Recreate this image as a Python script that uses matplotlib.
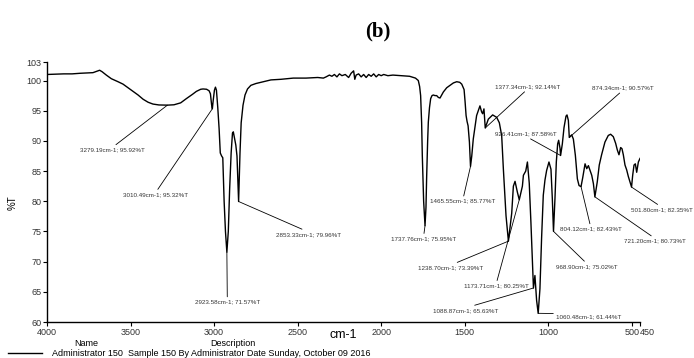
import matplotlib.pyplot as plt
from matplotlib.lines import Line2D

plt.rcParams['font.family'] = ['Liberation Sans', 'DejaVu Sans']

# Spectre IR (nombre d'onde en cm-1, transmittance en %T)
wavenumber = [
    4000, 3950, 3900, 3850, 3800, 3760, 3725, 3700, 3685, 3670, 3645, 3615,
    3575, 3545, 3515, 3485, 3455, 3425, 3395, 3366, 3330, 3279.19, 3240, 3200,
    3166, 3130, 3106, 3080, 3066, 3045, 3030, 3022, 3015, 3010.49, 3005, 2998,
    2992, 2986, 2978, 2970, 2963, 2955, 2948, 2940, 2932, 2923.58, 2915, 2907,
    2898, 2890, 2885, 2878, 2870, 2863, 2853.33, 2845, 2838, 2827, 2815, 2800,
    2780, 2750, 2720, 2690, 2660, 2600, 2526, 2450, 2380, 2346,
    2330, 2310, 2295, 2280, 2265, 2250, 2235, 2215, 2195, 2180, 2165, 2158,
    2150, 2135, 2120, 2105, 2090, 2075, 2060, 2045, 2030, 2015, 2000, 1985,
    1960, 1930, 1880, 1830, 1795,
    1778, 1770, 1764, 1758, 1754, 1746, 1737.76, 1732, 1728, 1722, 1718, 1711,
    1704, 1696, 1688, 1678, 1668, 1658, 1648, 1638, 1628, 1608, 1588, 1568,
    1548, 1530, 1518, 1510, 1504, 1498, 1492, 1486, 1480, 1472, 1465.55, 1458,
    1449, 1429, 1409, 1399, 1393, 1385, 1377.34, 1359, 1333, 1309, 1293, 1279,
    1269, 1253, 1238.70, 1219, 1209, 1199, 1185, 1173.71, 1155, 1149, 1143, 1135,
    1125, 1114, 1104, 1088.87, 1080, 1070, 1060.48, 1050, 1040, 1030, 1020, 1010,
    996, 984, 976, 968.90, 960, 952, 944, 938, 930, 926.41, 916, 906,
    894, 888, 880, 874.34, 860, 850, 838, 826, 816, 804.12, 794, 780,
    770, 760, 750, 740, 730, 721.20, 707, 695, 681, 661, 641, 627,
    611, 597, 587, 577, 567, 559, 551, 541, 531, 521, 501.80, 495,
    487, 479, 471, 461, 451,
]
transmittance = [
    101.0, 101.05, 101.1, 101.1, 101.2, 101.25, 101.3, 101.55, 101.7, 101.45, 100.9, 100.3,
    99.8, 99.4, 98.8, 98.2, 97.6, 96.9, 96.4, 96.1, 95.95, 95.92, 95.98, 96.3,
    97.0, 97.7, 98.2, 98.55, 98.6, 98.55, 98.3, 97.8, 96.0, 95.32, 96.8, 98.4,
    98.9, 98.4, 95.5, 92.0, 88.0, 87.5, 87.2, 80.0, 75.0, 71.57, 75.0, 82.0,
    88.0, 91.3, 91.5, 90.5, 89.3, 87.5, 79.96, 88.0, 93.0, 95.9, 97.6, 98.6,
    99.2, 99.5, 99.7, 99.9, 100.1, 100.2, 100.4, 100.4, 100.5, 100.4,
    100.6, 100.9, 100.7, 101.0, 100.6, 101.1, 100.8, 101.0, 100.5, 101.2, 101.6, 100.2,
    100.9, 101.1, 100.6, 101.0, 100.5, 101.0, 100.7, 101.1, 100.6, 101.0, 100.8, 101.0,
    100.8, 100.9, 100.8, 100.7, 100.4,
    100.0, 99.0, 97.5, 93.0, 87.6, 80.0, 75.95, 79.0, 84.0, 90.0, 93.1, 95.5,
    97.0, 97.5, 97.6, 97.5, 97.5, 97.2, 97.1, 97.6, 98.1, 98.8, 99.2, 99.6,
    99.8, 99.7, 99.4, 98.9, 98.5, 96.5, 94.2, 93.2, 92.5, 89.8, 85.77, 87.5,
    90.3, 94.2, 95.8, 94.8, 94.5, 95.3, 92.14, 93.6, 94.3, 93.9, 93.0, 90.9,
    85.4, 77.6, 73.39, 78.0, 82.5, 83.3, 81.5, 80.25, 82.5, 84.3, 84.6, 85.0,
    86.5, 83.0, 76.5, 65.63, 67.7, 63.6, 61.44, 65.5, 74.0, 81.0, 83.5, 85.1,
    86.5, 85.3, 80.5, 75.02, 80.5, 86.5, 89.5, 90.1, 88.8, 87.58, 89.5, 92.2,
    94.1, 94.3, 93.4, 90.57, 91.0, 90.3, 87.6, 83.7, 82.6, 82.43, 83.9, 86.2,
    85.4, 85.9, 85.1, 84.3, 82.9, 80.73, 83.2, 86.0, 87.7, 89.8, 90.9, 91.1,
    90.7, 89.6, 88.5, 87.7, 88.9, 88.7, 87.7, 86.0, 85.2, 84.1, 82.35, 84.3,
    86.0, 86.2, 84.8, 86.5, 87.1,
]

# Pics annotés
peak_wn = [3279.19, 3010.49, 2923.58, 2853.33, 1737.76, 1465.55, 1377.34, 1238.70,
           1173.71, 1088.87, 1060.48, 968.90, 926.41, 874.34, 804.12, 721.20, 501.80]
peak_t = [95.92, 95.32, 71.57, 79.96, 75.95, 85.77, 92.14, 73.39,
          80.25, 65.63, 61.44, 75.02, 87.58, 90.57, 82.43, 80.73, 82.35]

# Position des étiquettes (x, y, point d'attache du trait)
label_pos = [
    (3609, 88.5, (0.5, 1)), (3348, 81.1, (0.5, 1)), (2921, 63.3, (0.5, 1)),
    (2436, 74.5, (0.5, 1)), (1746, 73.8, (0.5, 1)), (1510, 80.0, (0.5, 1)),
    (1124, 99.0, (0.5, 0)), (1585, 69.0, (0.5, 1)), (1311, 66.0, (0.5, 1)),
    (1497, 61.9, (0.5, 1)), (758, 60.9, (0.5, 1)), (767, 69.2, (0.5, 1)),
    (1136, 91.2, (0.5, 0)), (554, 98.8, (0.5, 0)), (747, 75.4, (0.5, 1)),
    (360, 73.4, (0.5, 1)), (321, 78.6, (0.5, 1)),
]

x_ticks = [4000, 3500, 3000, 2500, 2000, 1500, 1000, 500, 450]
y_ticks = [60, 65, 70, 75, 80, 85, 90, 95, 100, 103]

fig = plt.figure(figsize=(6.94, 3.58), dpi=100)
ax = fig.add_axes([47 / 694, 1 - 322 / 358, 593.2 / 694, 259.6 / 358])

ax.plot(wavenumber, transmittance, color='black', lw=1.0)

for wn, t, (tx, ty, rp) in zip(peak_wn, peak_t, label_pos):
    ax.annotate(f"{wn:.2f}cm-1; {t:.2f}%T", xy=(wn, t), xytext=(tx, ty),
                ha='center', va='center', fontsize=4.5, color='#333333',
                annotation_clip=False,
                arrowprops=dict(arrowstyle='-', color='black', lw=0.6,
                                shrinkA=0, shrinkB=0, relpos=rp))

ax.set_xlim(4000, 450)
ax.set_ylim(60, 103)
ax.set_xticks(x_ticks)
ax.set_xticklabels([str(v) for v in x_ticks])
ax.set_yticks(y_ticks)
ax.set_yticklabels([str(v) for v in y_ticks])
ax.tick_params(labelsize=6.5, length=3, width=0.8, pad=1, labelcolor='#333333')
# "450" collé juste après "500" comme sur l'original
ax.get_xticklabels()[-1].set_horizontalalignment('left')
for side in ['top', 'right']:
    ax.spines[side].set_visible(False)
for side in ['left', 'bottom']:
    ax.spines[side].set_linewidth(1.0)

fig.text(378 / 694, 1 - 31 / 358, '(b)', family='Liberation Serif', weight='bold',
         fontsize=15, ha='center', va='center')
fig.text(343 / 694, 1 - 335 / 358, 'cm-1', fontsize=9, ha='center', va='center')
fig.text(13 / 694, 1 - 203 / 358, '%T', fontsize=7, rotation=90, ha='center', va='center')

# Légende en bas
fig.text(86 / 694, 1 - 344 / 358, 'Name', fontsize=6.5, ha='center', va='center')
fig.text(233 / 694, 1 - 344 / 358, 'Description', fontsize=6.5, ha='center', va='center')
fig.add_artist(Line2D([8 / 694, 42 / 694], [1 - 353 / 358, 1 - 353 / 358],
                      color='black', lw=1.0, transform=fig.transFigure))
fig.text(52 / 694, 1 - 353 / 358, 'Administrator 150', fontsize=6.5, ha='left', va='center')
fig.text(128 / 694, 1 - 353 / 358, 'Sample 150 By Administrator Date Sunday, October 09 2016',
         fontsize=6.5, ha='left', va='center')

fig.savefig('out.png', dpi=100)
